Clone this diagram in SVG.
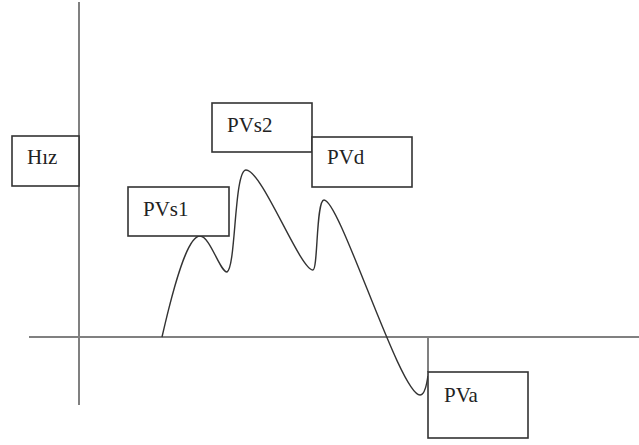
<svg xmlns="http://www.w3.org/2000/svg" width="639" height="445" viewBox="0 0 639 445">
<style>
.box rect{fill:#fff;stroke:#333;stroke-width:1.6}
.box text{font-family:'Liberation Serif','Times New Roman',serif;font-size:21px;fill:#222}
.axis{stroke:#808080;stroke-width:2;fill:none}
.curve{stroke:#333;stroke-width:1.4;fill:none}
</style>
<rect width="639" height="445" fill="#fff"/>
<g id="connectors">
<line class="axis" x1="79" y1="2" x2="79" y2="405"/>
<line class="axis" x1="29" y1="337" x2="639" y2="337"/>
<line class="axis" x1="428" y1="337" x2="428" y2="372"/>
<path class="curve" d="M162,337 C175,280 188,236 200,236 C210,236 220,272 227,272 C236,268 234,170 246,170 C262,170 300,270 313,270 C318,270 316,200 324,200 C340,200 400,395 420,395 C426,395 427,380 428,376"/>
</g>
<g id="hiz" class="box"><rect x="12" y="136" width="67" height="50"/><text x="27" y="164">Hız</text></g>
<g id="pvs2" class="box"><rect x="212" y="103" width="100" height="49"/><text x="227" y="132">PVs2</text></g>
<g id="pvd" class="box"><rect x="312" y="137" width="100" height="50"/><text x="327" y="164">PVd</text></g>
<g id="pvs1" class="box"><rect x="128" y="187" width="101" height="49"/><text x="143" y="216">PVs1</text></g>
<g id="pva" class="box"><rect x="428" y="372" width="100" height="66"/><text x="444" y="402">PVa</text></g>
</svg>
